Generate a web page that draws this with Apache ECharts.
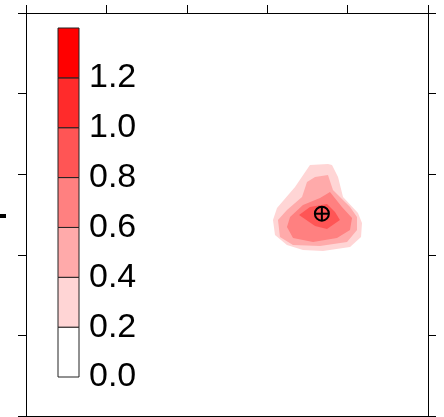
<!DOCTYPE html>
<html>
<head>
<meta charset="utf-8">
<script src="https://cdn.jsdelivr.net/npm/echarts@6/dist/echarts.min.js"></script>
<style>
html,body{margin:0;padding:0;background:#fff;}
#chart{width:444px;height:417px;}
</style>
</head>
<body>
<div id="chart"></div>
<script>
// colour levels of the colour bar
const levelEdges = [0, 0.2, 0.4, 0.6, 0.8, 1.0, 1.2, 1.4];
const levelColors = ['#ffffff', '#ffd5d5', '#ffaaaa', '#ff8080', '#ff5555', '#ff2b2b', '#ff0000'];
const colorbarTickLabels = ['0.0', '0.2', '0.4', '0.6', '0.8', '1.0', '1.2', ''];

// contour polygons (data coordinates) for levels 0.2, 0.4, 0.6, 0.8
const contourLevels = [0.2, 0.4, 0.6, 0.8];
const contour02 = [[3.756,3.127],[3.532,3.114],[3.346,2.841],[3.122,2.581],[3.072,2.432],[3.097,2.246],[3.246,2.122],[3.445,2.060],[3.694,2.047],[4.030,2.097],[4.167,2.221],[4.179,2.395],[4.129,2.519],[3.943,2.717],[3.881,2.965],[3.806,3.114]];
const contour04 = [[3.756,2.990],[3.818,2.804],[4.030,2.593],[4.117,2.469],[4.117,2.308],[3.993,2.159],[3.657,2.109],[3.321,2.122],[3.159,2.221],[3.134,2.432],[3.246,2.556],[3.433,2.717],[3.495,2.903],[3.595,2.965]];
const contour06 = [[3.657,2.705],[3.781,2.779],[3.930,2.593],[4.055,2.457],[4.030,2.308],[3.868,2.208],[3.570,2.159],[3.321,2.208],[3.246,2.345],[3.284,2.469],[3.445,2.618]];
const contour08 = [[3.396,2.494],[3.532,2.593],[3.744,2.630],[3.843,2.531],[3.905,2.432],[3.744,2.320],[3.595,2.357]];
const contourPolys = [contour02, contour04, contour06, contour08];

// peak marker
const peak = [3.68, 2.51];

const axisStyle = {onZero: false, lineStyle: {color: '#000', width: 1}};
const tickStyle = {show: true, inside: false, length: 8, lineStyle: {color: '#000', width: 1}};

function levelColor(v) {
  for (let i = 0; i < levelColors.length; i++) {
    if (v >= levelEdges[i] && v < levelEdges[i + 1]) return levelColors[i];
  }
  return levelColors[levelColors.length - 1];
}

const chart = echarts.init(document.getElementById('chart'), null, {renderer: 'canvas'});
chart.setOption({
  animation: false,
  backgroundColor: '#fff',
  grid: [
    {left: 26, top: 13, width: 402, height: 403},
    {left: 58, top: 28, width: 21, height: 349}
  ],
  xAxis: [
    {gridIndex: 0, type: 'value', min: 0, max: 5, interval: 1, position: 'bottom',
     axisLine: axisStyle, axisTick: tickStyle, axisLabel: {show: false}, splitLine: {show: false}},
    {gridIndex: 0, type: 'value', min: 0, max: 5, interval: 1, position: 'top',
     axisLine: axisStyle, axisTick: tickStyle, axisLabel: {show: false}, splitLine: {show: false}},
    {gridIndex: 1, type: 'value', min: 0, max: 1, show: false}
  ],
  yAxis: [
    {gridIndex: 0, type: 'value', min: 0, max: 5, interval: 1, position: 'left',
     axisLine: axisStyle, axisTick: tickStyle, axisLabel: {show: false}, splitLine: {show: false}},
    {gridIndex: 0, type: 'value', min: 0, max: 5, interval: 1, position: 'right',
     axisLine: axisStyle, axisTick: tickStyle, axisLabel: {show: false}, splitLine: {show: false}},
    {gridIndex: 1, type: 'value', min: 0, max: 1.4, interval: 0.2, position: 'right',
     axisLine: {show: false}, axisTick: {show: false}, splitLine: {show: false},
     axisLabel: {show: true, margin: 10, fontSize: 34, color: '#000', fontFamily: 'Liberation Sans, Arial, sans-serif',
       formatter: function (v) { const i = Math.round(v / 0.2); return colorbarTickLabels[i] || ''; }}}
  ],
  series: [
    {
      type: 'custom', xAxisIndex: 0, yAxisIndex: 0, silent: true,
      data: contourLevels.map((lv, i) => [i, lv]),
      renderItem: function (params, api) {
        const idx = api.value(0);
        const pts = contourPolys[idx].map(p => api.coord(p));
        return {type: 'polygon', shape: {points: pts},
                style: {fill: levelColor(api.value(1) + 0.01), stroke: null}};
      }
    },
    {
      type: 'custom', xAxisIndex: 0, yAxisIndex: 0, silent: true, z: 5,
      data: [peak],
      renderItem: function (params, api) {
        const c = api.coord([api.value(0), api.value(1)]);
        const r = 7;
        const st = {stroke: '#000', lineWidth: 2, fill: null};
        return {type: 'group', children: [
          {type: 'circle', shape: {cx: c[0], cy: c[1], r: r}, style: st},
          {type: 'line', shape: {x1: c[0] - r, y1: c[1], x2: c[0] + r, y2: c[1]}, style: st},
          {type: 'line', shape: {x1: c[0], y1: c[1] - r, x2: c[0], y2: c[1] + r}, style: st}
        ]};
      }
    },
    {
      type: 'custom', xAxisIndex: 2, yAxisIndex: 2, silent: true, z: 6,
      data: levelColors.map((c, i) => [levelEdges[i], levelEdges[i + 1]]),
      renderItem: function (params, api) {
        const lo = api.value(0), hi = api.value(1);
        const p1 = api.coord([0, hi]);
        const p2 = api.coord([1, lo]);
        return {type: 'rect',
                shape: {x: p1[0], y: p1[1], width: p2[0] - p1[0], height: p2[1] - p1[1]},
                style: {fill: levelColors[params.dataIndex], stroke: '#222', lineWidth: 1}};
      }
    }
  ],
  graphic: [
    {type: 'rect', left: 0, top: 214, shape: {width: 6, height: 4}, style: {fill: '#000'}}
  ]
});
</script>
</body>
</html>
